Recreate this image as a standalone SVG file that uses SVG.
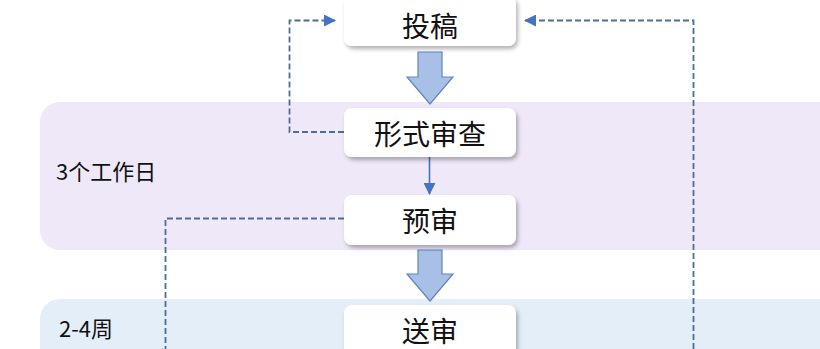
<svg xmlns="http://www.w3.org/2000/svg" width="820" height="349" viewBox="0 0 820 349">
<style>
.node rect{fill:#fff;filter:url(#sh)}
.node text{font-family:"Noto Sans CJK SC","Noto Sans",sans-serif;font-size:28px;fill:#111;text-anchor:middle;dominant-baseline:central}
.lbl{font-family:"Noto Sans CJK SC","Noto Sans",sans-serif;font-size:22px;fill:#111}
.dash{fill:none;stroke:#4f6c98;stroke-width:1.8;stroke-dasharray:6 3}
.solid{fill:none;stroke:#4472c4;stroke-width:1.6}
.block{fill:#a9c0e6;stroke:#5f84c4;stroke-width:1.2}
</style>
<defs>
<filter id="sh" x="-10%" y="-20%" width="125%" height="150%">
<feDropShadow dx="2" dy="3" stdDeviation="2" flood-color="#000" flood-opacity="0.3"/>
</filter>
<marker id="ah" viewBox="0 0 12 12" refX="11" refY="6" markerWidth="12" markerHeight="12" markerUnits="userSpaceOnUse" orient="auto">
<path d="M0,0 L12,6 L0,12 z" fill="#4472c4"/>
</marker>
</defs>
<rect x="0" y="0" width="820" height="349" fill="#fff"/>
<g id="band1">
<rect x="40" y="102" width="820" height="148" rx="20" fill="#efe8f9"/>
<text class="lbl" x="56" y="180">3个工作日</text>
</g>
<g id="band2">
<rect x="40" y="299" width="820" height="100" rx="20" fill="#e3eef9"/>
<text class="lbl" x="59" y="337">2-4周</text>
</g>
<g id="connectors">
<path class="dash" d="M344,132 H289.5 V20.5 H335" marker-end="url(#ah)"/>
<path class="dash" d="M344,218.5 H165.5 V349"/>
<path class="dash" d="M693.5,349 V20.5 H525" marker-end="url(#ah)"/>
<path class="solid" d="M429.5,157 V194" marker-end="url(#ah)"/>
<path class="block" d="M418,52 H442 V77 H453 L430,104 L407,77 H418 Z"/>
<path class="block" d="M418,250 H442 V274 H453 L430,301 L407,274 H418 Z"/>
</g>
<g id="n1" class="node"><rect x="344" y="-4" width="172" height="50" rx="8"/><text x="430" y="25">投稿</text></g>
<g id="n2" class="node"><rect x="344" y="108" width="172" height="49" rx="8"/><text x="430" y="133">形式审查</text></g>
<g id="n3" class="node"><rect x="344" y="195" width="172" height="50" rx="8"/><text x="430" y="220">预审</text></g>
<g id="n4" class="node"><rect x="344" y="305" width="172" height="60" rx="8"/><text x="430" y="330">送审</text></g>
</svg>
